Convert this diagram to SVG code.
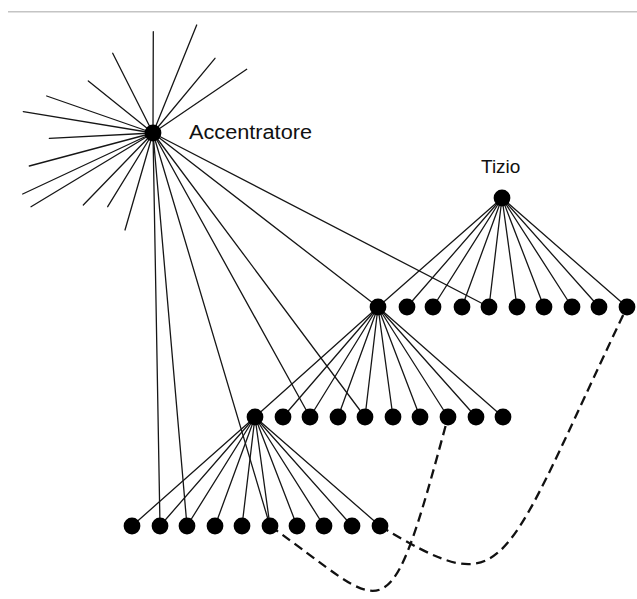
<svg xmlns="http://www.w3.org/2000/svg" width="637" height="599" viewBox="0 0 637 599">
<style>
.e{stroke:#161616;stroke-width:1.3;fill:none;stroke-linecap:round}
.d{stroke:#111;stroke-width:2.3;fill:none;stroke-dasharray:9.5 5.5}
.n{fill:#000}
.t{font-family:"Liberation Sans",Arial,sans-serif;fill:#111}
</style>
<rect width="637" height="599" fill="#fff"/>
<line x1="8" y1="11.7" x2="637" y2="11.7" stroke="#c4c4c4" stroke-width="1.4"/>
<g id="connectors">
<g id="starburst">
<line class="e" x1="153" y1="133" x2="153.3" y2="31.7"/>
<line class="e" x1="153" y1="133" x2="196.7" y2="25"/>
<line class="e" x1="153" y1="133" x2="215" y2="58.3"/>
<line class="e" x1="153" y1="133" x2="246.7" y2="69.3"/>
<line class="e" x1="153" y1="133" x2="112.7" y2="53.3"/>
<line class="e" x1="153" y1="133" x2="88.3" y2="81"/>
<line class="e" x1="153" y1="133" x2="46.7" y2="96"/>
<line class="e" x1="153" y1="133" x2="23.3" y2="111.7"/>
<line class="e" x1="153" y1="133" x2="49.3" y2="138.3"/>
<line class="e" x1="153" y1="133" x2="29.3" y2="166"/>
<line class="e" x1="153" y1="133" x2="22.7" y2="194"/>
<line class="e" x1="153" y1="133" x2="31" y2="206.7"/>
<line class="e" x1="153" y1="133" x2="83.3" y2="205"/>
<line class="e" x1="153" y1="133" x2="107.7" y2="206.7"/>
<line class="e" x1="153" y1="133" x2="125" y2="230"/>
</g>
<g id="acc-edges">
<line class="e" x1="153" y1="133" x2="160" y2="526"/>
<line class="e" x1="153" y1="133" x2="187" y2="526"/>
<line class="e" x1="153" y1="133" x2="270" y2="526"/>
<line class="e" x1="153" y1="133" x2="310" y2="417"/>
<line class="e" x1="153" y1="133" x2="365" y2="417"/>
<line class="e" x1="153" y1="133" x2="378" y2="307"/>
<line class="e" x1="153" y1="133" x2="489" y2="307"/>
</g>
<g id="tizio-edges">
<line class="e" x1="502" y1="198" x2="378" y2="307"/>
<line class="e" x1="502" y1="198" x2="407" y2="307"/>
<line class="e" x1="502" y1="198" x2="433" y2="307"/>
<line class="e" x1="502" y1="198" x2="462" y2="307"/>
<line class="e" x1="502" y1="198" x2="489" y2="307"/>
<line class="e" x1="502" y1="198" x2="517" y2="307"/>
<line class="e" x1="502" y1="198" x2="544" y2="307"/>
<line class="e" x1="502" y1="198" x2="572" y2="307"/>
<line class="e" x1="502" y1="198" x2="599" y2="307"/>
<line class="e" x1="502" y1="198" x2="627" y2="307"/>
</g>
<g id="hub2-edges">
<line class="e" x1="378" y1="307" x2="255" y2="417"/>
<line class="e" x1="378" y1="307" x2="283" y2="417"/>
<line class="e" x1="378" y1="307" x2="310" y2="417"/>
<line class="e" x1="378" y1="307" x2="338" y2="417"/>
<line class="e" x1="378" y1="307" x2="365" y2="417"/>
<line class="e" x1="378" y1="307" x2="393" y2="417"/>
<line class="e" x1="378" y1="307" x2="420" y2="417"/>
<line class="e" x1="378" y1="307" x2="448" y2="417"/>
<line class="e" x1="378" y1="307" x2="476" y2="417"/>
<line class="e" x1="378" y1="307" x2="503" y2="417"/>
</g>
<g id="hub3-edges">
<line class="e" x1="255" y1="417" x2="132" y2="526"/>
<line class="e" x1="255" y1="417" x2="160" y2="526"/>
<line class="e" x1="255" y1="417" x2="187" y2="526"/>
<line class="e" x1="255" y1="417" x2="215" y2="526"/>
<line class="e" x1="255" y1="417" x2="242" y2="526"/>
<line class="e" x1="255" y1="417" x2="270" y2="526"/>
<line class="e" x1="255" y1="417" x2="297" y2="526"/>
<line class="e" x1="255" y1="417" x2="324" y2="526"/>
<line class="e" x1="255" y1="417" x2="352" y2="526"/>
<line class="e" x1="255" y1="417" x2="380" y2="526"/>
</g>
<g id="dashed">
<path class="d" d="M270,526 C390,610 386,647 448,417"/>
<path class="d" d="M380,526 C510,604 498,577 627,307"/>
</g>
</g>
<g id="acc"><circle class="n" cx="153" cy="133" r="8.4"/><text class="t" x="189" y="139" font-size="20" textLength="123" lengthAdjust="spacingAndGlyphs">Accentratore</text></g>
<g id="tizio"><circle class="n" cx="502" cy="198" r="8.4"/><text class="t" x="481" y="172.7" font-size="19">Tizio</text></g>
<g id="t0"><circle class="n" cx="378" cy="307" r="8.4"/></g>
<g id="t1"><circle class="n" cx="407" cy="307" r="8.4"/></g>
<g id="t2"><circle class="n" cx="433" cy="307" r="8.4"/></g>
<g id="t3"><circle class="n" cx="462" cy="307" r="8.4"/></g>
<g id="t4"><circle class="n" cx="489" cy="307" r="8.4"/></g>
<g id="t5"><circle class="n" cx="517" cy="307" r="8.4"/></g>
<g id="t6"><circle class="n" cx="544" cy="307" r="8.4"/></g>
<g id="t7"><circle class="n" cx="572" cy="307" r="8.4"/></g>
<g id="t8"><circle class="n" cx="599" cy="307" r="8.4"/></g>
<g id="t9"><circle class="n" cx="627" cy="307" r="8.4"/></g>
<g id="m0"><circle class="n" cx="255" cy="417" r="8.4"/></g>
<g id="m1"><circle class="n" cx="283" cy="417" r="8.4"/></g>
<g id="m2"><circle class="n" cx="310" cy="417" r="8.4"/></g>
<g id="m3"><circle class="n" cx="338" cy="417" r="8.4"/></g>
<g id="m4"><circle class="n" cx="365" cy="417" r="8.4"/></g>
<g id="m5"><circle class="n" cx="393" cy="417" r="8.4"/></g>
<g id="m6"><circle class="n" cx="420" cy="417" r="8.4"/></g>
<g id="m7"><circle class="n" cx="448" cy="417" r="8.4"/></g>
<g id="m8"><circle class="n" cx="476" cy="417" r="8.4"/></g>
<g id="m9"><circle class="n" cx="503" cy="417" r="8.4"/></g>
<g id="b0"><circle class="n" cx="132" cy="526" r="8.4"/></g>
<g id="b1"><circle class="n" cx="160" cy="526" r="8.4"/></g>
<g id="b2"><circle class="n" cx="187" cy="526" r="8.4"/></g>
<g id="b3"><circle class="n" cx="215" cy="526" r="8.4"/></g>
<g id="b4"><circle class="n" cx="242" cy="526" r="8.4"/></g>
<g id="b5"><circle class="n" cx="270" cy="526" r="8.4"/></g>
<g id="b6"><circle class="n" cx="297" cy="526" r="8.4"/></g>
<g id="b7"><circle class="n" cx="324" cy="526" r="8.4"/></g>
<g id="b8"><circle class="n" cx="352" cy="526" r="8.4"/></g>
<g id="b9"><circle class="n" cx="380" cy="526" r="8.4"/></g>
</svg>
